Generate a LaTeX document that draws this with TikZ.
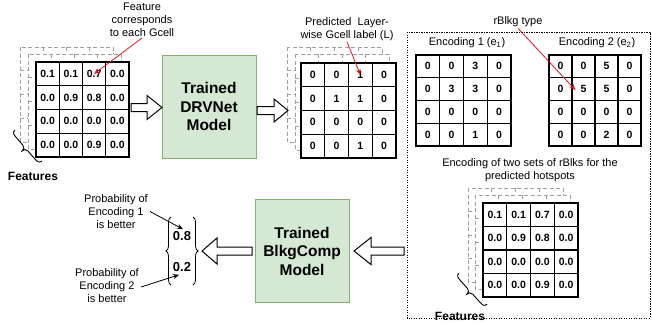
\documentclass[tikz,border=0pt]{standalone}
\usepackage{fontspec}
\setmainfont{Liberation Sans}
\usetikzlibrary{calc,decorations.pathreplacing,arrows.meta}
\definecolor{boxfill}{HTML}{D5E8D4}
\definecolor{boxline}{HTML}{82B366}
\definecolor{redline}{HTML}{E0141E}
\tikzset{
  gridln/.style={line width=1.3pt, draw=black},
  layer/.style={draw=gray!75, line width=0.9pt, dash pattern=on 4pt off 2.5pt},
  num/.style={font=\fontsize{10.5}{12}\selectfont\bfseries, inner sep=0pt},
  vecnum/.style={font=\fontsize{13}{15}\selectfont\bfseries, inner sep=1pt},
  lbl/.style={font=\fontsize{11}{13}\selectfont, align=center, inner sep=1pt},
  feat/.style={font=\fontsize{12}{14}\selectfont\bfseries, inner sep=0pt},
  modelbox/.style={draw=boxline, fill=boxfill, line width=1pt, align=center,
    font=\fontsize{15.5}{18.5}\selectfont\bfseries, minimum width=94pt, minimum height=103pt, inner sep=0pt},
  redarr/.style={draw=redline, line width=0.8pt, -{Stealth[length=6pt,width=5pt]}},
  blkarr/.style={draw=black, line width=0.8pt, -{Stealth[length=6pt,width=5pt]}},
  hollow/.style={draw=black, line width=1pt, fill=white, line join=miter},
  bracedec/.style={decorate, decoration={brace, amplitude=#1}, line width=0.8pt},
  bracepath/.style={draw=black, line width=0.9pt},
  dotbox/.style={draw=black, line width=0.8pt, dash pattern=on 1.2pt off 1.3pt},
}
\newcommand\cellgrid[6]{%
  \draw[gridln, fill=white] (#2,#3) rectangle (#4,#5);
  \foreach \k in {1,2,3}{
    \draw[gridln] ({#2+\k*(#4-#2)/4},#3) -- ({#2+\k*(#4-#2)/4},#5);
    \draw[gridln] (#2,{#3+\k*(#5-#3)/4}) -- (#4,{#3+\k*(#5-#3)/4});
  }
  \foreach \row [count=\r] in {#6}{
    \foreach \v [count=\c] in \row{
      \node[num] (#1-\r-\c) at ({#2+(\c-0.5)*(#4-#2)/4},{#3+(\r-0.5)*(#5-#3)/4}) {\v};
    }
  }
}
\newcommand\layergrid[4]{%
  \draw[layer, fill=white] (#1,#2) rectangle (#3,#4);
  \foreach \k in {1,2,3}{
    \draw[layer] ({#1+\k*(#3-#1)/4},#2) -- ({#1+\k*(#3-#1)/4},#4);
    \draw[layer] (#1,{#2+\k*(#4-#2)/4}) -- (#3,{#2+\k*(#4-#2)/4});
  }
}
\newcommand\harrow[4]{%
  \draw[hollow] let \p1=(#1), \p2=(#2), \p3=($(#2)!#3!(#1)$) in
    ({\x1},{\y1+4pt}) -- ({\x3},{\y1+4pt}) -- ({\x3},{\y1+#4}) -- ({\x2},{\y1})
    -- ({\x3},{\y1-#4}) -- ({\x3},{\y1-4pt}) -- ({\x1},{\y1-4pt}) -- cycle;
}
% rotated curly brace: #1 start point, #2 angle, #3 length
\newcommand\featbrace[3]{%
  \begin{scope}[shift={(#1)}, rotate=#2]
    \draw[bracepath] (0,0) .. controls (0,4) and (3,4) .. (8,4)
      -- ({#3/2-4},4) .. controls ({#3/2-1},4) and ({#3/2},6) .. ({#3/2},8.5)
      .. controls ({#3/2},6) and ({#3/2+1},4) .. ({#3/2+4},4)
      -- ({#3-8},4) .. controls ({#3-3},4) and (#3,4) .. (#3,0);
  \end{scope}
}
\begin{document}
\begin{tikzpicture}[x=1pt,y=-1pt]
\useasboundingbox (0,0) rectangle (652,333);

% ---------- left feature stack ----------
\layergrid{20}{47}{113}{142}
\layergrid{28}{54}{121}{149}
\cellgrid{F}{36}{62}{129}{157}{{0.1,0.1,0.7,0.0},{0.0,0.9,0.8,0.0},{0.0,0.0,0.0,0.0},{0.0,0.0,0.9,0.0}}
\coordinate (fb) at (15,130);
\featbrace{fb}{-49}{41}
\node[feat] (featL) at (33,176) {Features};

\node[lbl] (fl) at (142,20) {Feature\\corresponds\\to each Gcell};
\draw[redarr] (fl.south) -- (F-1-3.center);

% ---------- DRVNet ----------
\node[modelbox] (drv) at (209,106.5) {Trained\\DRVNet\\Model};
\coordinate (a1s) at (131,107.5);
\coordinate (a1e) at (162,107.5);
\harrow{a1s}{a1e}{15pt}{12pt}

% ---------- predicted stack ----------
\layergrid{287}{47}{382}{142}
\layergrid{295}{54}{389}{150}
\cellgrid{P}{301}{63}{396}{158}{{0,0,1,0},{0,1,1,0},{0,0,0,0},{0,0,1,0}}
\coordinate (a2s) at (257,110.5);
\coordinate (a2e) at (288,110.5);
\harrow{a2s}{a2e}{14pt}{11.5pt}
\node[lbl] (pl) at (347,29) {Predicted\ \ Layer-\\wise Gcell label (L)};
\draw[redarr] (pl.south) -- (P-1-3.center);

% ---------- dotted region ----------
\draw[dotbox] (407,32) rectangle (650,318);
\node[lbl] (rb) at (518,22) {rBlkg type};
\node[lbl] (e1l) at (467,43) {Encoding 1 (e\textsubscript{1})};
\node[lbl] (e2l) at (597,43) {Encoding 2 (e\textsubscript{2})};
\cellgrid{EA}{416}{55}{511}{146}{{0,0,3,0},{0,3,3,0},{0,0,0,0},{0,0,1,0}}
\cellgrid{EB}{549}{55}{641}{146}{{0,0,5,0},{0,5,5,0},{0,0,0,0},{0,0,2,0}}
\draw[redarr] (rb.south) -- ($(EB-2-2.center)+(-8,1)$);

\node[lbl] (encl) at (530,170) {Encoding of two sets of rBlks for the\\predicted hotspots};
\layergrid{468}{188}{563}{282}
\layergrid{475}{195}{570}{289}
\cellgrid{G}{483}{203}{578}{297}{{0.1,0.1,0.7,0.0},{0.0,0.9,0.8,0.0},{0.0,0.0,0.0,0.0},{0.0,0.0,0.9,0.0}}
\coordinate (gb) at (459,273);
\featbrace{gb}{-48}{42}
\node[feat] (featR) at (460,316) {Features};

% ---------- BlkgComp ----------
\node[modelbox] (blk) at (302,251) {Trained\\BlkgComp\\Model};
\coordinate (a3s) at (404,251);
\coordinate (a3e) at (354,251);
\harrow{a3s}{a3e}{17pt}{13.5pt}
\coordinate (a4s) at (252,251);
\coordinate (a4e) at (202,251);
\harrow{a4s}{a4e}{15pt}{13pt}

% ---------- output vector ----------
\node[vecnum] (v1) at (182,236) {0.8};
\node[vecnum] (v2) at (182,267) {0.2};
\coordinate (lb1) at (171,285);
\coordinate (lb2) at (171,217);
\coordinate (rb1) at (193,217);
\coordinate (rb2) at (193,285);
\draw[bracedec=5pt] (lb1) -- (lb2);
\draw[bracedec=5pt] (rb1) -- (rb2);

\node[lbl] (pr1) at (116,211.5) {Probability of\\Encoding 1\\is better};
\node[lbl] (pr2) at (107,286) {Probability of\\Encoding 2\\is better};
\draw[blkarr] ($(pr1.east)+(1,0)$) -- ($(v1.north)+(1,-1)$);
\draw[blkarr] ($(pr2.east)+(1,1)$) -- ($(v2.south)+(-3,2)$);
\end{tikzpicture}
\end{document}
